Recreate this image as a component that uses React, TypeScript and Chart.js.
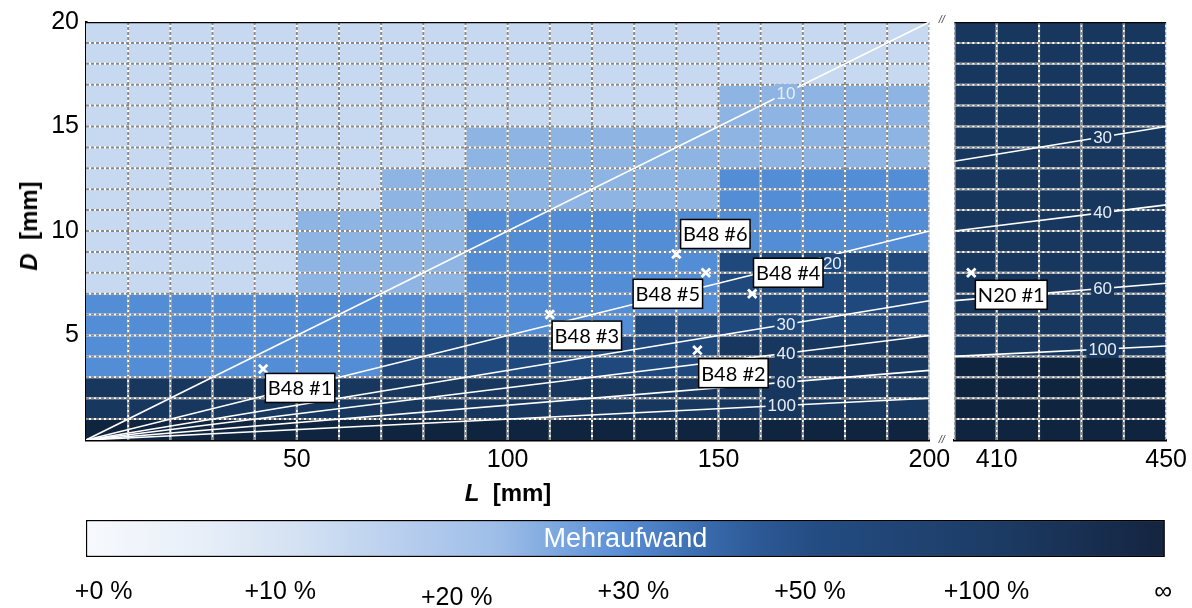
import React, { useEffect, useRef } from 'react';
import { Chart, registerables } from 'chart.js';

Chart.register(...registerables);

// ---------------- data ----------------
const dMin = 0;
const dMax = 20;
const leftLMin = 0;
const leftLMax = 200;
const rightLMin = 400;
const rightLMax = 450;
const columnWidth = 10;

const leftColumnStarts = [0, 10, 20, 30, 40, 50, 60, 70, 80, 90, 100, 110, 120, 130, 140, 150, 160, 170, 180, 190];
const rightColumnStarts = [400, 410, 420, 430, 440];

// levels from darkest (not feasible) to lightest
const levelLabels = ['∞', '+50 … +100 %', '+30 … +50 %', '+20 … +30 %', '+10 … +20 %', '+0 … +10 %'];
const levelColors = ['#0f243e', '#17375e', '#1f497d', '#538dd5', '#8db4e2', '#c6d9f1'];

// upper D edge [mm] of each level, per column
const leftTopInf = [1, 1, 1, 1, 1, 1, 1, 1, 1, 1, 1, 1, 1, 1, 1, 1, 1, 1, 1, 1];
const leftTop100 = [3, 3, 3, 3, 3, 3, 3, 3, 3, 3, 3, 3, 3, 3, 3, 5, 5, 5, 5, 5];
const leftTop50 = [3, 3, 3, 3, 3, 3, 3, 5, 5, 5, 5, 5, 5, 6, 6, 9, 9, 9, 9, 9];
const leftTop30 = [7, 7, 7, 7, 7, 7, 7, 7, 7, 11, 11, 11, 11, 11, 11, 13, 13, 13, 13, 13];
const leftTop20 = [7, 7, 7, 7, 7, 11, 11, 13, 13, 15, 15, 15, 15, 15, 15, 17, 17, 17, 17, 17];

const rightTopInf = [4, 4, 4, 4, 4];
const rightTop100 = [20, 20, 20, 20, 20];
const rightTop50 = [20, 20, 20, 20, 20];
const rightTop30 = [20, 20, 20, 20, 20];
const rightTop20 = [20, 20, 20, 20, 20];

const gridD = [1, 2, 3, 4, 5, 6, 7, 8, 9, 10, 11, 12, 13, 14, 15, 16, 17, 18, 19];
const leftGridL = [10, 20, 30, 40, 50, 60, 70, 80, 90, 100, 110, 120, 130, 140, 150, 160, 170, 180, 190, 200];
const rightGridL = [400, 410, 420, 430, 440, 450];

const dTicks = [5, 10, 15, 20];
const leftLTicks = [50, 100, 150, 200];
const rightLTicks = [410, 450];

// L/D ratio lines
const ratioValues = [10, 20, 30, 40, 60, 100];
const ratioLabelLeftL = [166, 177, 166, 166, 166, 165];
const ratioLabelRightL = [435, 435, 435, 435, 435, 435];

const leftPointNames = ['B48 #1', 'B48 #2', 'B48 #3', 'B48 #4', 'B48 #5', 'B48 #6'];
const leftPointL = [42, 145, 110, 158, 147, 140];
const leftPointD = [3.4, 4.3, 6, 7, 8, 8.9];
const rightPointNames = ['N20 #1'];
const rightPointL = [404];
const rightPointD = [8];

const legendTitle = 'Mehraufwand';
const legendTickValues = [0, 1, 2, 3, 4, 5, 6];
const legendTickLabels = ['+0 %', '+10 %', '+20 %', '+30 %', '+50 %', '+100 %', '∞'];
const legendMin = -0.1;
const legendMax = 6.01;

// ---------------- styles ----------------
const SANS = "'Liberation Sans', Arial, sans-serif";
const LABEL_FONT = "Lato, 'Open Sans', sans-serif";
const leftLabelOffsets = [[37, 19], [36, 23], [37, 21], [36, -21], [-38, 21], [39, -20]];
const rightLabelOffsets = [[40, 22]];
const ratioLabelLeftDy = [0, 8, 0, 0, 0, 0];
const legendGradientStops: [number, string][] = [
  [0, '#f7f9fd'], [0.104, '#e8eff8'], [0.198, '#d3e1f3'], [0.29, '#b9cfee'], [0.383, '#9dbde8'],
  [0.439, '#7aa6de'], [0.494, '#5b8fd6'], [0.568, '#3b6db0'], [0.63, '#2b5793'], [0.679, '#234c82'],
  [0.846, '#1c3b64'], [1, '#142440'],
];

const leftTops = [leftTopInf, leftTop100, leftTop50, leftTop30, leftTop20];
const rightTops = [rightTopInf, rightTop100, rightTop50, rightTop30, rightTop20];

function levelColorAt(starts: number[], tops: number[][], L: number, D: number) {
  const i = starts.findIndex((s) => L >= s && L < s + columnWidth);
  if (i < 0) return levelColors[levelColors.length - 1];
  for (let k = 0; k < tops.length; k++) if (D < tops[k][i]) return levelColors[k];
  return levelColors[tops.length];
}

function cellDatasets(starts: number[], tops: number[][], axisId: string) {
  return levelColors.map((color, k) => {
    const data: any[] = [];
    starts.forEach((s, i) => {
      const lo = k === 0 ? dMin : tops[k - 1][i];
      const hi = k < tops.length ? tops[k][i] : dMax;
      if (hi > lo) data.push({ x: s + columnWidth / 2, y: [lo, hi] });
    });
    return {
      type: 'bar', label: levelLabels[k], data, xAxisID: axisId, yAxisID: 'y',
      backgroundColor: color, borderWidth: 0, grouped: false,
      categoryPercentage: 1, barPercentage: 1, order: 60,
    };
  });
}

function gridData(L0: number, L1: number, Ls: number[]) {
  const pts: any[] = [];
  gridD.forEach((d) => { pts.push({ x: L0, y: d }, { x: L1, y: d }, { x: L1, y: null }); });
  Ls.forEach((l) => { pts.push({ x: l, y: dMin }, { x: l, y: dMax }, { x: l, y: null }); });
  return pts;
}

function lineDs(data: any[], axisId: string, color: string, width: number, order: number, dash?: number[]) {
  return {
    type: 'line', data, xAxisID: axisId, yAxisID: 'y', borderColor: color, borderWidth: width,
    borderDash: dash || [], pointRadius: 0, fill: false, tension: 0, spanGaps: false, order,
    borderCapStyle: 'butt',
  };
}

const annotationPlugin = {
  id: 'annotations',
  afterDraw(chart: any) {
    const ctx = chart.ctx;
    const ys = chart.scales.y;
    const xl = chart.scales.x;
    const xr = chart.scales.x2;
    const xg = chart.scales.xg;
    ctx.save();
    ctx.textAlign = 'center';
    ctx.textBaseline = 'middle';

    // ratio labels
    ctx.font = `17px ${SANS}`;
    const ratioLabel = (xs: any, starts: number[], tops: number[][], L: number, r: number, dy: number) => {
      if (L / r >= dMax) return;
      const px = xs.getPixelForValue(L);
      const py = ys.getPixelForValue(L / r) + dy;
      const D = ys.getValueForPixel(py);
      const text = String(r);
      const w = ctx.measureText(text).width + 4;
      ctx.fillStyle = levelColorAt(starts, tops, L, D);
      ctx.fillRect(px - w / 2, py - 9, w, 18);
      ctx.fillStyle = '#e9eef6';
      ctx.fillText(text, px, py + 1);
    };
    ratioValues.forEach((r, i) => ratioLabel(xl, leftColumnStarts, leftTops, ratioLabelLeftL[i], r, ratioLabelLeftDy[i]));
    ratioValues.forEach((r, i) => ratioLabel(xr, rightColumnStarts, rightTops, ratioLabelRightL[i], r, 0));

    // point label boxes
    ctx.font = `20px ${LABEL_FONT}`;
    const box = (xs: any, L: number, D: number, name: string, off: number[]) => {
      const px = xs.getPixelForValue(L) + off[0];
      const py = ys.getPixelForValue(D) + off[1];
      const w = ctx.measureText(name).width + 5;
      const h = 29;
      ctx.fillStyle = '#ffffff';
      ctx.fillRect(px - w / 2, py - h / 2, w, h);
      ctx.lineWidth = 1.5;
      ctx.strokeStyle = '#000';
      ctx.strokeRect(px - w / 2, py - h / 2, w, h);
      ctx.fillStyle = '#000';
      ctx.fillText(name, px, py + 1);
    };
    leftPointNames.forEach((n, i) => box(xl, leftPointL[i], leftPointD[i], n, leftLabelOffsets[i]));
    rightPointNames.forEach((n, i) => box(xr, rightPointL[i], rightPointD[i], n, rightLabelOffsets[i]));

    // axis break marks
    const gx = (xg.left + xg.right) / 2;
    ctx.font = `italic 11px ${SANS}`;
    ctx.fillStyle = '#444';
    ctx.fillText('//', gx, chart.chartArea.top - 2);
    ctx.fillText('//', gx, chart.chartArea.bottom);
    ctx.restore();
  },
};

const legendTextPlugin = {
  id: 'legendText',
  afterDatasetsDraw(chart: any) {
    const { ctx, chartArea } = chart;
    ctx.save();
    ctx.font = `27px ${SANS}`;
    ctx.fillStyle = '#ffffff';
    ctx.textAlign = 'center';
    ctx.textBaseline = 'middle';
    ctx.fillText(legendTitle, (chartArea.left + chartArea.right) / 2, (chartArea.top + chartArea.bottom) / 2 + 1);
    ctx.restore();
  },
};

export default function App() {
  const mainRef = useRef<HTMLCanvasElement | null>(null);
  const legendRef = useRef<HTMLCanvasElement | null>(null);

  useEffect(() => {
    const tickFont = { family: SANS, size: 25 };
    const datasets: any[] = [
      ...cellDatasets(leftColumnStarts, leftTops, 'x'),
      ...cellDatasets(rightColumnStarts, rightTops, 'x2'),
      lineDs(gridData(leftLMin, leftLMax, leftGridL), 'x', '#ffffff', 2, 50),
      lineDs(gridData(rightLMin, rightLMax, rightGridL), 'x2', '#ffffff', 2, 50),
      lineDs(gridData(leftLMin, leftLMax, leftGridL), 'x', '#8a8a8a', 2, 40, [3, 2]),
      lineDs(gridData(rightLMin, rightLMax, rightGridL), 'x2', '#8a8a8a', 2, 40, [3, 2]),
      lineDs([{ x: leftLMin, y: dMax }, { x: leftLMax, y: dMax }], 'x', '#000', 2.5, 30),
      lineDs([{ x: rightLMin, y: dMax }, { x: rightLMax, y: dMax }], 'x2', '#000', 2.5, 30),
      ...ratioValues.map((r) => lineDs([{ x: leftLMin, y: leftLMin / r }, { x: leftLMax, y: leftLMax / r }], 'x', '#ffffff', 1.6, 20)),
      ...ratioValues.filter((r) => rightLMin / r < dMax).map((r) =>
        lineDs([{ x: rightLMin, y: rightLMin / r }, { x: rightLMax, y: rightLMax / r }], 'x2', '#ffffff', 1.6, 20)),
      {
        type: 'scatter', data: leftPointL.map((L, i) => ({ x: L, y: leftPointD[i] })), xAxisID: 'x', yAxisID: 'y',
        pointStyle: 'crossRot', pointRadius: 6, pointBorderWidth: 2.8, borderWidth: 2.8,
        pointBorderColor: '#fff', borderColor: '#fff', backgroundColor: '#fff', order: 10,
      },
      {
        type: 'scatter', data: rightPointL.map((L, i) => ({ x: L, y: rightPointD[i] })), xAxisID: 'x2', yAxisID: 'y',
        pointStyle: 'crossRot', pointRadius: 6, pointBorderWidth: 2.8, borderWidth: 2.8,
        pointBorderColor: '#fff', borderColor: '#fff', backgroundColor: '#fff', order: 10,
      },
    ];

    const xCommon = (min: number, max: number, weight: number, ticks: number[] | null) => ({
      type: 'linear', min, max, offset: false, position: 'bottom', stack: 'panels', stackWeight: weight, z: 1,
      grid: { display: false, drawTicks: false, offset: false },
      border: ticks ? { display: true, color: '#000', width: 2.5 } : { display: false },
      ticks: ticks
        ? { display: true, color: '#000', font: tickFont, padding: 5, autoSkip: false, maxRotation: 0, includeBounds: false }
        : { display: false },
      afterBuildTicks: (s: any) => { if (ticks) s.ticks = ticks.map((v) => ({ value: v })); else s.ticks = []; },
      afterFit: (s: any) => { s.height = 65; },
    });

    const main = new Chart(mainRef.current as HTMLCanvasElement, {
      type: 'bar',
      data: { datasets },
      options: {
        responsive: false, animation: false, devicePixelRatio: 1, events: [],
        layout: { padding: { top: 19, right: 25, left: 0, bottom: 0 } },
        plugins: { legend: { display: false }, tooltip: { enabled: false } },
        scales: {
          x: xCommon(leftLMin, leftLMax, 844, leftLTicks),
          xg: xCommon(0, 1, 25, null),
          x2: xCommon(rightLMin, rightLMax, 212, rightLTicks),
          y: {
            type: 'linear', min: dMin, max: dMax, position: 'left', z: 1,
            grid: { display: false, drawTicks: false },
            border: { display: true, color: '#000', width: 2.5 },
            ticks: { color: '#000', font: tickFont, padding: 7, includeBounds: false },
            afterBuildTicks: (s: any) => { s.ticks = dTicks.map((v) => ({ value: v })); },
            afterFit: (s: any) => { s.width = 86; },
          },
        },
      } as any,
      plugins: [annotationPlugin],
    } as any);

    const legend = new Chart(legendRef.current as HTMLCanvasElement, {
      type: 'bar',
      data: {
        labels: [legendTitle],
        datasets: [{
          data: [[legendMin, legendMax]],
          backgroundColor: (c: any) => {
            const { ctx, chartArea } = c.chart;
            if (!chartArea) return '#538dd5';
            const g = ctx.createLinearGradient(chartArea.left, 0, chartArea.right, 0);
            legendGradientStops.forEach(([f, col]) => g.addColorStop(f, col));
            return g;
          },
          borderColor: '#000', borderWidth: 1.5, borderSkipped: false,
          categoryPercentage: 1, barPercentage: 1,
        }],
      },
      options: {
        indexAxis: 'y', responsive: false, animation: false, devicePixelRatio: 1, events: [],
        layout: { padding: { top: 15, right: 25, left: 86, bottom: 0 } },
        plugins: { legend: { display: false }, tooltip: { enabled: false } },
        scales: {
          y: { display: false },
          x: {
            type: 'linear', min: legendMin, max: legendMax, offset: false,
            grid: { display: false, drawTicks: false }, border: { display: false },
            ticks: {
              color: '#000', padding: 20, autoSkip: false, maxRotation: 0, includeBounds: false,
              font: (c: any) => ({ family: SANS, size: 25, lineHeight: c.index === 2 ? 1.7 : 1.2 }),
              callback: (v: any) => legendTickLabels[legendTickValues.indexOf(Number(v))] ?? '',
            },
            afterBuildTicks: (s: any) => { s.ticks = legendTickValues.map((v) => ({ value: v })); },
            afterFit: (s: any) => { s.height = 51; },
          },
        },
      } as any,
      plugins: [legendTextPlugin],
    } as any);

    return () => { main.destroy(); legend.destroy(); };
  }, []);

  const titleStyle: React.CSSProperties = {
    position: 'absolute', font: `bold 24px ${SANS}`, color: '#000', whiteSpace: 'nowrap',
  };

  return (
    <div style={{ position: 'absolute', left: 0, top: 0, width: 1192, height: 608, background: '#fff', overflow: 'hidden' }}>
      <canvas ref={mainRef} width={1192} height={505} style={{ position: 'absolute', left: 0, top: 0, width: 1192, height: 505 }} />
      <canvas ref={legendRef} width={1192} height={103} style={{ position: 'absolute', left: 0, top: 505, width: 1192, height: 103 }} />
      <div style={{ ...titleStyle, left: 29, top: 226, transform: 'translate(-50%, -50%) rotate(-90deg)' }}>
        <i>D</i>&nbsp;&nbsp;[mm]
      </div>
      <div style={{ ...titleStyle, left: 508, top: 493, transform: 'translate(-50%, -50%)' }}>
        <i>L</i>&nbsp;&nbsp;[mm]
      </div>
    </div>
  );
}
